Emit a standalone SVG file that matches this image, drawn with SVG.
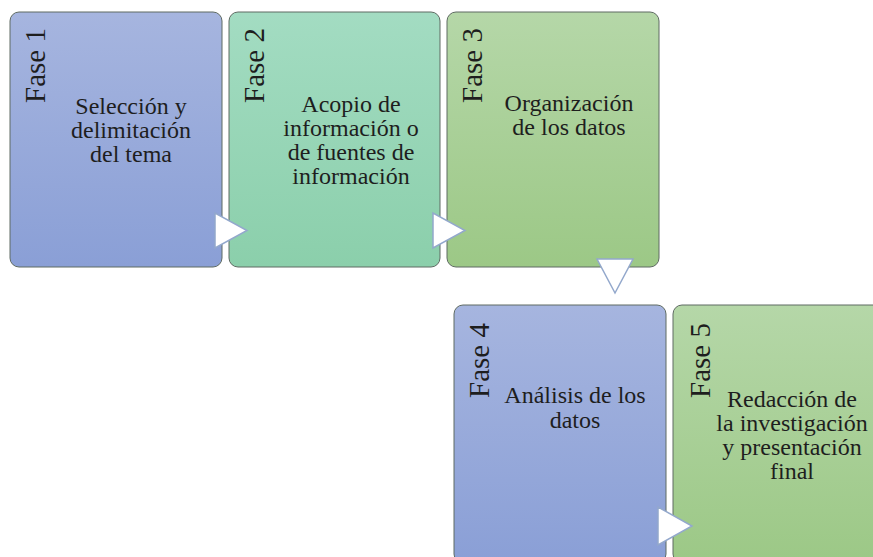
<svg xmlns="http://www.w3.org/2000/svg" width="873" height="557" viewBox="0 0 873 557">
<defs>
<linearGradient id="gBlue" x1="0" y1="0" x2="0" y2="1"><stop offset="0" stop-color="#a6b5df"/><stop offset="1" stop-color="#8a9fd6"/></linearGradient>
<linearGradient id="gTeal" x1="0" y1="0" x2="0" y2="1"><stop offset="0" stop-color="#a3dcc2"/><stop offset="1" stop-color="#8bcfab"/></linearGradient>
<linearGradient id="gGreen" x1="0" y1="0" x2="0" y2="1"><stop offset="0" stop-color="#b5d7a8"/><stop offset="1" stop-color="#9cc886"/></linearGradient>
</defs>
<style>
.box{stroke:#5f6b63;stroke-width:1}
.lbl{font-family:"Liberation Serif","Times New Roman",serif;font-size:29px;fill:#1e1e1e}
.txt{font-family:"Liberation Serif","Times New Roman",serif;font-size:24px;fill:#1e1e1e;text-anchor:middle}
.arr{fill:#ffffff;stroke:#93a8cc;stroke-width:1.5;stroke-linejoin:miter}
</style>
<rect width="873" height="557" fill="#ffffff"/>
<g id="fase1">
<rect class="box" x="10" y="12" width="212" height="255" rx="9" fill="url(#gBlue)"/>
<text class="lbl" transform="translate(45,103) rotate(-90)">Fase 1</text>
<text class="txt" x="131" y="114">Selección y</text>
<text class="txt" x="131" y="138">delimitación</text>
<text class="txt" x="131" y="162">del tema</text>
</g>
<g id="fase2">
<rect class="box" x="229" y="12" width="211" height="255" rx="9" fill="url(#gTeal)"/>
<text class="lbl" transform="translate(264,103) rotate(-90)">Fase 2</text>
<text class="txt" x="351" y="112">Acopio de</text>
<text class="txt" x="351" y="136">información o</text>
<text class="txt" x="351" y="160">de fuentes de</text>
<text class="txt" x="351" y="184">información</text>
</g>
<g id="fase3">
<rect class="box" x="447" y="12" width="212" height="255" rx="9" fill="url(#gGreen)"/>
<text class="lbl" transform="translate(482,103) rotate(-90)">Fase 3</text>
<text class="txt" x="569" y="111">Organización</text>
<text class="txt" x="569" y="135">de los datos</text>
</g>
<g id="fase4">
<rect class="box" x="454" y="305" width="212" height="258" rx="9" fill="url(#gBlue)"/>
<text class="lbl" transform="translate(489,398) rotate(-90)">Fase 4</text>
<text class="txt" x="575" y="403">Análisis de los</text>
<text class="txt" x="575" y="428">datos</text>
</g>
<g id="fase5">
<rect class="box" x="673" y="305" width="216" height="258" rx="9" fill="url(#gGreen)"/>
<text class="lbl" transform="translate(710,398) rotate(-90)">Fase 5</text>
<text class="txt" x="792" y="407">Redacción de</text>
<text class="txt" x="792" y="431">la investigación</text>
<text class="txt" x="792" y="455">y presentación</text>
<text class="txt" x="792" y="479">final</text>
</g>
<g id="connectors">
<polygon class="arr" points="215,213 215,248 247,230.5"/>
<polygon class="arr" points="433,213 433,248 465,230.5"/>
<polygon class="arr" points="597,259 633,259 615,293"/>
<polygon class="arr" points="658,507 658,545 692,526"/>
</g>
</svg>
